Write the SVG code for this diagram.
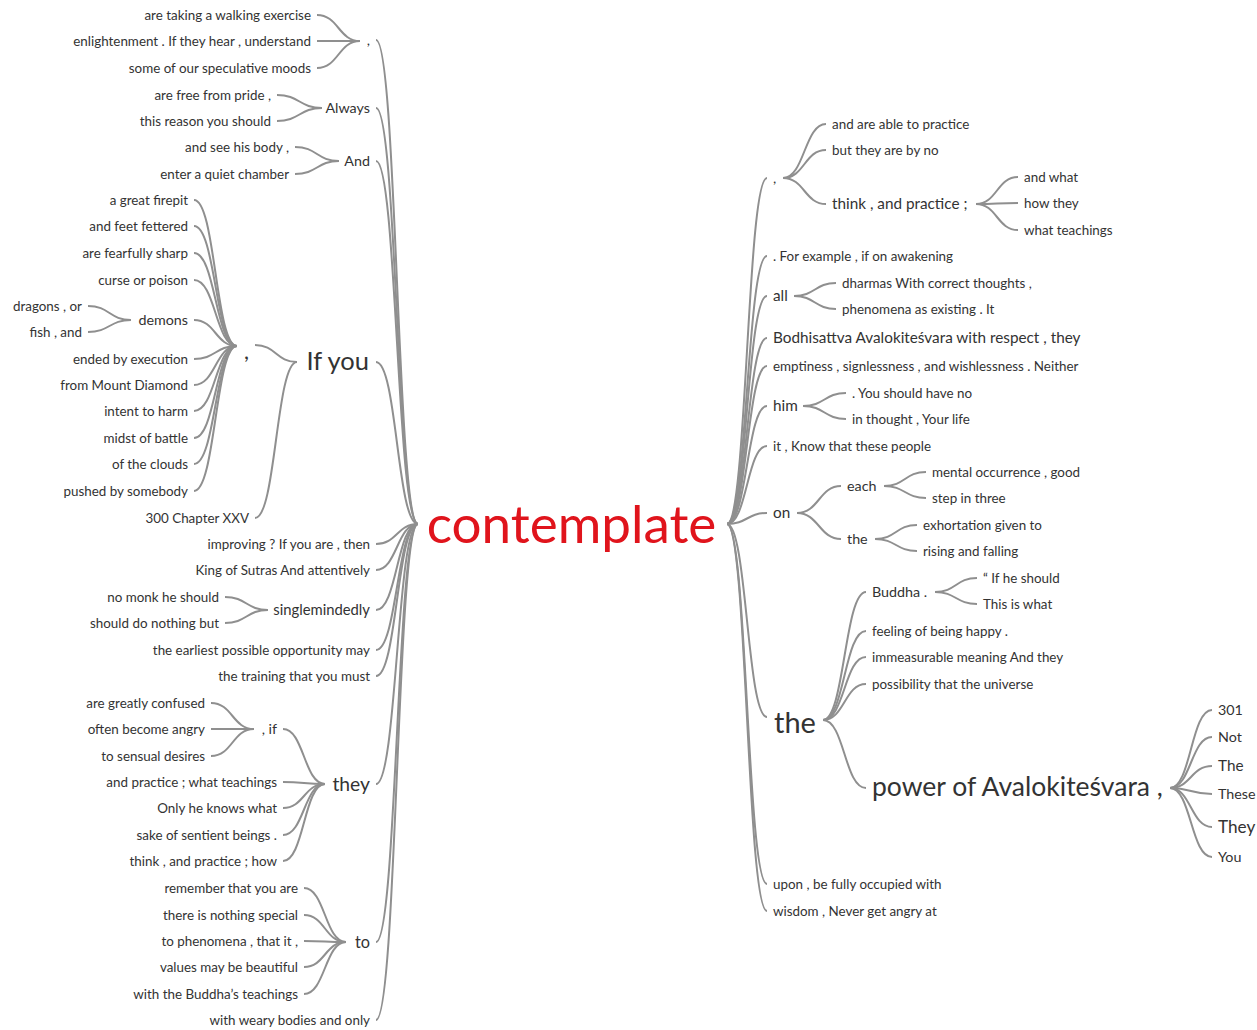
<svg xmlns="http://www.w3.org/2000/svg" width="1257" height="1030" viewBox="0 0 1257 1030">
<style>
  text { font-family: Lato, "Liberation Sans", sans-serif; fill: #333; }
  .l { text-anchor: end; }
  .r { text-anchor: start; }
  .s13 { font-size: 13.4px; }
  .s14 { font-size: 14.3px; }
  .s15 { font-size: 15.3px; }
  .s16 { font-size: 16.3px; }
  .s17 { font-size: 17.2px; }
  .s19 { font-size: 19.3px; }
  .s22 { font-size: 22px; }
  .s25 { font-size: 25.5px; }
  .s26 { font-size: 26.5px; }
  .s29 { font-size: 29px; }
  .root { font-size: 53px; fill: #e0141c; text-anchor: middle; }
  .e path { fill: none; stroke: #8f8f8f; stroke-width: 2; }
</style>
<rect width="1257" height="1030" fill="#fff"/>

<g id="connectors" class="e">
  <!-- root, left branches -->
  <path d="M418 524C397 524 397 40 376 40"/>
  <path d="M418 524C397 524 397 108 376 108"/>
  <path d="M418 524C397 524 397 161 376 161"/>
  <path d="M418 524C397 524 397 362 376 362"/>
  <path d="M418 524C397 524 397 544 376 544"/>
  <path d="M418 524C397 524 397 570 376 570"/>
  <path d="M418 524C397 524 397 610 376 610"/>
  <path d="M418 524C397 524 397 650 376 650"/>
  <path d="M418 524C397 524 397 676 376 676"/>
  <path d="M418 524C397 524 397 784 376 784"/>
  <path d="M418 524C397 524 397 942 376 942"/>
  <path d="M418 524C397 524 397 1020 376 1020"/>
  <!-- "," (top) -->
  <path d="M360 41C338.5 41 338.5 15 317 15"/>
  <path d="M360 41C338.5 41 338.5 41 317 41"/>
  <path d="M360 41C338.5 41 338.5 68 317 68"/>
  <!-- Always -->
  <path d="M322 108C299.5 108 299.5 95 277 95"/>
  <path d="M322 108C299.5 108 299.5 121 277 121"/>
  <!-- And -->
  <path d="M339 161C317 161 317 147 295 147"/>
  <path d="M339 161C317 161 317 174 295 174"/>
  <!-- If you -->
  <path d="M297 362C276 362 276 345 255 345"/>
  <path d="M297 362C276 362 276 518 255 518"/>
  <!-- "," under If you -->
  <path d="M237 346C215.5 346 215.5 200 194 200"/>
  <path d="M237 346C215.5 346 215.5 226 194 226"/>
  <path d="M237 346C215.5 346 215.5 253 194 253"/>
  <path d="M237 346C215.5 346 215.5 280 194 280"/>
  <path d="M237 346C215.5 346 215.5 320 194 320"/>
  <path d="M237 346C215.5 346 215.5 359 194 359"/>
  <path d="M237 346C215.5 346 215.5 385 194 385"/>
  <path d="M237 346C215.5 346 215.5 411 194 411"/>
  <path d="M237 346C215.5 346 215.5 438 194 438"/>
  <path d="M237 346C215.5 346 215.5 464 194 464"/>
  <path d="M237 346C215.5 346 215.5 491 194 491"/>
  <!-- demons -->
  <path d="M131 320C109.5 320 109.5 306 88 306"/>
  <path d="M131 320C109.5 320 109.5 332 88 332"/>
  <!-- singlemindedly -->
  <path d="M268 610C246.5 610 246.5 597 225 597"/>
  <path d="M268 610C246.5 610 246.5 623 225 623"/>
  <!-- they -->
  <path d="M325 784C304 784 304 729 283 729"/>
  <path d="M325 784C304 784 304 782 283 782"/>
  <path d="M325 784C304 784 304 808 283 808"/>
  <path d="M325 784C304 784 304 835 283 835"/>
  <path d="M325 784C304 784 304 861 283 861"/>
  <!-- , if -->
  <path d="M254 729C232.5 729 232.5 703 211 703"/>
  <path d="M254 729C232.5 729 232.5 729 211 729"/>
  <path d="M254 729C232.5 729 232.5 756 211 756"/>
  <!-- to -->
  <path d="M346 942C325 942 325 888 304 888"/>
  <path d="M346 942C325 942 325 915 304 915"/>
  <path d="M346 942C325 942 325 941 304 941"/>
  <path d="M346 942C325 942 325 967 304 967"/>
  <path d="M346 942C325 942 325 994 304 994"/>

  <!-- root, right branches -->
  <path d="M727 524C747 524 747 178 767 178"/>
  <path d="M727 524C747 524 747 256 767 256"/>
  <path d="M727 524C747 524 747 296 767 296"/>
  <path d="M727 524C747 524 747 338 767 338"/>
  <path d="M727 524C747 524 747 366 767 366"/>
  <path d="M727 524C747 524 747 406 767 406"/>
  <path d="M727 524C747 524 747 446 767 446"/>
  <path d="M727 524C747 524 747 513 767 513"/>
  <path d="M727 524C747 524 747 717 767 717"/>
  <path d="M727 524C747 524 747 884 767 884"/>
  <path d="M727 524C747 524 747 911 767 911"/>
  <!-- "," (right) -->
  <path d="M783 178C804.5 178 804.5 124 826 124"/>
  <path d="M783 178C804.5 178 804.5 150 826 150"/>
  <path d="M783 178C804.5 178 804.5 204 826 204"/>
  <!-- think , and practice ; -->
  <path d="M976 204C997 204 997 177 1018 177"/>
  <path d="M976 204C997 204 997 203 1018 203"/>
  <path d="M976 204C997 204 997 230 1018 230"/>
  <!-- all -->
  <path d="M794 296C815 296 815 283 836 283"/>
  <path d="M794 296C815 296 815 309 836 309"/>
  <!-- him -->
  <path d="M803 406C824.5 406 824.5 393 846 393"/>
  <path d="M803 406C824.5 406 824.5 419 846 419"/>
  <!-- on -->
  <path d="M797 513C819 513 819 486 841 486"/>
  <path d="M797 513C819 513 819 539 841 539"/>
  <!-- each -->
  <path d="M884 486C905 486 905 472 926 472"/>
  <path d="M884 486C905 486 905 498 926 498"/>
  <!-- the (under on) -->
  <path d="M875 539C896 539 896 525 917 525"/>
  <path d="M875 539C896 539 896 551 917 551"/>
  <!-- the -->
  <path d="M823 720C844.5 720 844.5 592 866 592"/>
  <path d="M823 720C844.5 720 844.5 631 866 631"/>
  <path d="M823 720C844.5 720 844.5 657 866 657"/>
  <path d="M823 720C844.5 720 844.5 684 866 684"/>
  <path d="M823 720C844.5 720 844.5 788 866 788"/>
  <!-- Buddha . -->
  <path d="M935 592C956 592 956 578 977 578"/>
  <path d="M935 592C956 592 956 604 977 604"/>
  <!-- power of Avalokiteśvara , -->
  <path d="M1170 788C1191 788 1191 710 1212 710"/>
  <path d="M1170 788C1191 788 1191 737 1212 737"/>
  <path d="M1170 788C1191 788 1191 766 1212 766"/>
  <path d="M1170 788C1191 788 1191 794 1212 794"/>
  <path d="M1170 788C1191 788 1191 827 1212 827"/>
  <path d="M1170 788C1191 788 1191 857 1212 857"/>
</g>

<g id="n-root"><text class="root" x="571.5" y="543">contemplate</text></g>

<!-- left side -->
<g id="n-l-comma"><text class="l s14" x="370" y="45">,</text></g>
<g id="n-l-comma-1"><text class="l s13" x="311" y="20">are taking a walking exercise</text></g>
<g id="n-l-comma-2"><text class="l s13" x="311" y="46">enlightenment . If they hear , understand</text></g>
<g id="n-l-comma-3"><text class="l s13" x="311" y="73">some of our speculative moods</text></g>

<g id="n-always"><text class="l s14" x="370" y="113">Always</text></g>
<g id="n-always-1"><text class="l s13" x="271" y="100">are free from pride ,</text></g>
<g id="n-always-2"><text class="l s13" x="271" y="126">this reason you should</text></g>

<g id="n-and"><text class="l s14" x="370" y="166">And</text></g>
<g id="n-and-1"><text class="l s13" x="289" y="152">and see his body ,</text></g>
<g id="n-and-2"><text class="l s13" x="289" y="179">enter a quiet chamber</text></g>

<g id="n-ifyou"><text class="l s25" x="369" y="370">If you</text></g>
<g id="n-ifyou-comma"><text class="l s22" x="249" y="359">,</text></g>
<g id="n-ic-1"><text class="l s13" x="188" y="205">a great firepit</text></g>
<g id="n-ic-2"><text class="l s13" x="188" y="231">and feet fettered</text></g>
<g id="n-ic-3"><text class="l s13" x="188" y="258">are fearfully sharp</text></g>
<g id="n-ic-4"><text class="l s13" x="188" y="285">curse or poison</text></g>
<g id="n-demons"><text class="l s14" x="188" y="325">demons</text></g>
<g id="n-demons-1"><text class="l s13" x="82" y="311">dragons , or</text></g>
<g id="n-demons-2"><text class="l s13" x="82" y="337">fish , and</text></g>
<g id="n-ic-6"><text class="l s13" x="188" y="364">ended by execution</text></g>
<g id="n-ic-7"><text class="l s13" x="188" y="390">from Mount Diamond</text></g>
<g id="n-ic-8"><text class="l s13" x="188" y="416">intent to harm</text></g>
<g id="n-ic-9"><text class="l s13" x="188" y="443">midst of battle</text></g>
<g id="n-ic-10"><text class="l s13" x="188" y="469">of the clouds</text></g>
<g id="n-ic-11"><text class="l s13" x="188" y="496">pushed by somebody</text></g>
<g id="n-chapter"><text class="l s13" x="249" y="523">300 Chapter XXV</text></g>

<g id="n-improving"><text class="l s13" x="370" y="549">improving ? If you are , then</text></g>
<g id="n-king"><text class="l s13" x="370" y="575">King of Sutras And attentively</text></g>
<g id="n-single"><text class="l" style="font-size:14.8px" x="370" y="615">singlemindedly</text></g>
<g id="n-single-1"><text class="l s13" x="219" y="602">no monk he should</text></g>
<g id="n-single-2"><text class="l s13" x="219" y="628">should do nothing but</text></g>
<g id="n-earliest"><text class="l s13" x="370" y="655">the earliest possible opportunity may</text></g>
<g id="n-training"><text class="l s13" x="370" y="681">the training that you must</text></g>

<g id="n-they"><text class="l s19" x="370" y="791">they</text></g>
<g id="n-if"><text class="l s14" x="277" y="734">, if</text></g>
<g id="n-if-1"><text class="l s13" x="205" y="708">are greatly confused</text></g>
<g id="n-if-2"><text class="l s13" x="205" y="734">often become angry</text></g>
<g id="n-if-3"><text class="l s13" x="205" y="761">to sensual desires</text></g>
<g id="n-they-2"><text class="l s13" x="277" y="787">and practice ; what teachings</text></g>
<g id="n-they-3"><text class="l s13" x="277" y="813">Only he knows what</text></g>
<g id="n-they-4"><text class="l s13" x="277" y="840">sake of sentient beings .</text></g>
<g id="n-they-5"><text class="l s13" x="277" y="866">think , and practice ; how</text></g>

<g id="n-to"><text class="l s16" x="370" y="948">to</text></g>
<g id="n-to-1"><text class="l s13" x="298" y="893">remember that you are</text></g>
<g id="n-to-2"><text class="l s13" x="298" y="920">there is nothing special</text></g>
<g id="n-to-3"><text class="l s13" x="298" y="946">to phenomena , that it ,</text></g>
<g id="n-to-4"><text class="l s13" x="298" y="972">values may be beautiful</text></g>
<g id="n-to-5"><text class="l s13" x="298" y="999">with the Buddha’s teachings</text></g>
<g id="n-weary"><text class="l s13" x="370" y="1025">with weary bodies and only</text></g>

<!-- right side -->
<g id="n-r-comma"><text class="r s14" x="773" y="183">,</text></g>
<g id="n-r-comma-1"><text class="r s13" x="832" y="129">and are able to practice</text></g>
<g id="n-r-comma-2"><text class="r s13" x="832" y="155">but they are by no</text></g>
<g id="n-think"><text class="r s15" x="832" y="209">think , and practice ;</text></g>
<g id="n-think-1"><text class="r s13" x="1024" y="182">and what</text></g>
<g id="n-think-2"><text class="r s13" x="1024" y="208">how they</text></g>
<g id="n-think-3"><text class="r s13" x="1024" y="235">what teachings</text></g>

<g id="n-example"><text class="r s13" x="773" y="261">. For example , if on awakening</text></g>
<g id="n-all"><text class="r s15" x="773" y="301">all</text></g>
<g id="n-all-1"><text class="r s13" x="842" y="288">dharmas With correct thoughts ,</text></g>
<g id="n-all-2"><text class="r s13" x="842" y="314">phenomena as existing . It</text></g>
<g id="n-bodhisattva"><text class="r s15" x="773" y="343">Bodhisattva Avalokiteśvara with respect , they</text></g>
<g id="n-emptiness"><text class="r s13" x="773" y="371">emptiness , signlessness , and wishlessness . Neither</text></g>
<g id="n-him"><text class="r s15" x="773" y="411">him</text></g>
<g id="n-him-1"><text class="r s13" x="852" y="398">. You should have no</text></g>
<g id="n-him-2"><text class="r s13" x="852" y="424">in thought , Your life</text></g>
<g id="n-know"><text class="r s13" x="773" y="451">it , Know that these people</text></g>

<g id="n-on"><text class="r s15" x="773" y="518">on</text></g>
<g id="n-each"><text class="r s14" x="847" y="491">each</text></g>
<g id="n-each-1"><text class="r s13" x="932" y="477">mental occurrence , good</text></g>
<g id="n-each-2"><text class="r s13" x="932" y="503">step in three</text></g>
<g id="n-on-the"><text class="r s14" x="847" y="544">the</text></g>
<g id="n-on-the-1"><text class="r s13" x="923" y="530">exhortation given to</text></g>
<g id="n-on-the-2"><text class="r s13" x="923" y="556">rising and falling</text></g>

<g id="n-the"><text class="r s29" x="774" y="733">the</text></g>
<g id="n-buddha"><text class="r s14" x="872" y="597">Buddha .</text></g>
<g id="n-buddha-1"><text class="r s13" x="983" y="583">“ If he should</text></g>
<g id="n-buddha-2"><text class="r s13" x="983" y="609">This is what</text></g>
<g id="n-the-2"><text class="r s13" x="872" y="636">feeling of being happy .</text></g>
<g id="n-the-3"><text class="r s13" x="872" y="662">immeasurable meaning And they</text></g>
<g id="n-the-4"><text class="r s13" x="872" y="689">possibility that the universe</text></g>
<g id="n-power"><text class="r s26" x="872" y="796">power of Avalokiteśvara ,</text></g>
<g id="n-power-1"><text class="r s14" x="1218" y="715">301</text></g>
<g id="n-power-2"><text class="r s14" x="1218" y="742">Not</text></g>
<g id="n-power-3"><text class="r s15" x="1218" y="771">The</text></g>
<g id="n-power-4"><text class="r s14" x="1218" y="799">These</text></g>
<g id="n-power-5"><text class="r s17" x="1218" y="833">They</text></g>
<g id="n-power-6"><text class="r s14" x="1218" y="862">You</text></g>

<g id="n-upon"><text class="r s13" x="773" y="889">upon , be fully occupied with</text></g>
<g id="n-wisdom"><text class="r s13" x="773" y="916">wisdom , Never get angry at</text></g>
</svg>
